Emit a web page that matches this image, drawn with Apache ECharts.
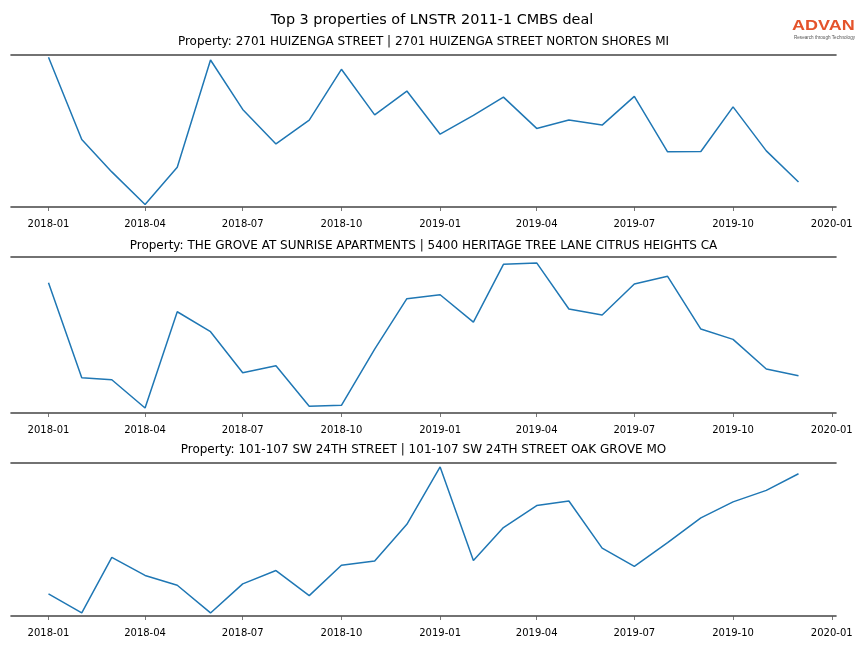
<!DOCTYPE html>
<html>
<head>
<meta charset="utf-8">
<script src="https://cdn.jsdelivr.net/npm/echarts@6/dist/echarts.min.js"></script>
<style>html,body{margin:0;padding:0;background:#fff}#c{width:864px;height:648px}</style>
</head>
<body>
<div id="c"></div>
<script>
// ---- data (relative index) ----
const months = ['2018-01','2018-02','2018-03','2018-04','2018-05','2018-06','2018-07','2018-08','2018-09','2018-10','2018-11','2018-12',
                '2019-01','2019-02','2019-03','2019-04','2019-05','2019-06','2019-07','2019-08','2019-09','2019-10','2019-11','2019-12'];
const tickLabels = ['2018-01','2018-04','2018-07','2018-10','2019-01','2019-04','2019-07','2019-10','2020-01'];
const mainTitle = 'Top 3 properties of LNSTR 2011-1 CMBS deal';
const propertyTitles = [
  'Property: 2701 HUIZENGA STREET | 2701 HUIZENGA STREET NORTON SHORES MI',
  'Property: THE GROVE AT SUNRISE APARTMENTS | 5400 HERITAGE TREE LANE CITRUS HEIGHTS CA',
  'Property: 101-107 SW 24TH STREET | 101-107 SW 24TH STREET OAK GROVE MO'
];
const huizenga = [98.5,44.4,23.1,1.6,26.2,96.7,64.2,41.5,57.2,90.6,60.6,76.3,
                  47.9,60.3,72.3,51.7,57.2,53.9,72.8,36.3,36.5,65.9,36.9,16.5];
const groveSunrise = [83.5,22.6,21.3,3.2,64.9,52.1,25.8,30.3,4.3,4.9,41.0,73.3,
                      75.8,58.3,95.3,96.2,66.7,62.8,82.7,87.6,53.8,47.2,28.2,23.9];
const sw24th = [14.4,2.0,38.3,26.5,20.1,2.0,21.0,29.7,13.3,33.2,35.9,59.9,
                97.4,36.3,57.8,72.2,75.2,44.4,32.4,47.9,64.1,74.6,82.1,93.0];
const seriesList = [huizenga, groveSunrise, sw24th];

// ---- build ----
function ts(s){ const p = s.split('-'); return Date.UTC(+p[0], +p[1]-1, 1); }
function fmt(v){ const d = new Date(v); const m = d.getUTCMonth()+1; return d.getUTCFullYear() + '-' + (m<10?'0':'') + m; }
const xs = months.map(ts);
const span = xs[xs.length-1] - xs[0];
const xMin = xs[0] - 0.05*span, xMax = xs[xs.length-1] + 0.05*span;
const tickVals = tickLabels.map(ts);

const grids = [
  {left: 11, right: 28, top: 55, height: 152},
  {left: 11, right: 28, top: 257, height: 156},
  {left: 11, right: 28, top: 463, height: 153}
];
const subTitleY = [42, 246, 450];
const FONT = 'DejaVu Sans';

const xAxes = [], yAxes = [], series = [];
grids.forEach((g, i) => {
  xAxes.push({
    type: 'value', gridIndex: i, min: xMin, max: xMax, position: 'bottom',
    axisLine: {show: true, lineStyle: {color: '#444', width: 1.6}},
    axisTick: {show: true, length: 4, lineStyle: {color: '#555', width: 0.8}, customValues: tickVals},
    axisLabel: {show: true, customValues: tickVals, formatter: fmt, fontFamily: FONT, fontSize: 10, color: '#000', margin: 12, hideOverlap: false},
    splitLine: {show: false}
  });
  xAxes.push({
    type: 'value', gridIndex: i, min: xMin, max: xMax, position: 'top',
    axisLine: {show: true, lineStyle: {color: '#444', width: 1.6}},
    axisTick: {show: false}, axisLabel: {show: false}, splitLine: {show: false}
  });
  yAxes.push({
    type: 'value', gridIndex: i, min: 0, max: 100,
    axisLine: {show: false}, axisTick: {show: false}, axisLabel: {show: false}, splitLine: {show: false}
  });
  series.push({
    type: 'line', xAxisIndex: i*2, yAxisIndex: i,
    data: xs.map((x, k) => [x, seriesList[i][k]]),
    showSymbol: false, symbol: 'none',
    lineStyle: {color: '#1f77b4', width: 1.5},
    animation: false
  });
});

const graphics = [
  {type: 'text', x: 432, y: 20.5, style: {text: mainTitle, fontFamily: FONT, fontSize: 14.4, fill: '#000', align: 'center', verticalAlign: 'middle'}},
  {type: 'text', x: 792, y: 26, scaleX: 1.2, style: {text: 'ADVAN', fontFamily: 'Liberation Sans', fontSize: 15, fontWeight: 'bold', fill: '#e4532b', align: 'left', verticalAlign: 'middle'}},
  {type: 'text', x: 824.5, y: 37.5, style: {text: 'Research through Technology', fontFamily: 'Liberation Sans', fontSize: 4.6, fill: '#555', align: 'center', verticalAlign: 'middle'}}
];
propertyTitles.forEach((t, i) => graphics.push({type: 'text', x: 423.5, y: subTitleY[i], style: {text: t, fontFamily: FONT, fontSize: 12, fill: '#000', align: 'center', verticalAlign: 'middle'}}));

const chart = echarts.init(document.getElementById('c'), null, {renderer: 'canvas'});
chart.setOption({
  backgroundColor: '#fff',
  animation: false,
  grid: grids,
  xAxis: xAxes,
  yAxis: yAxes,
  series: series,
  graphic: graphics
});
</script>
</body>
</html>
